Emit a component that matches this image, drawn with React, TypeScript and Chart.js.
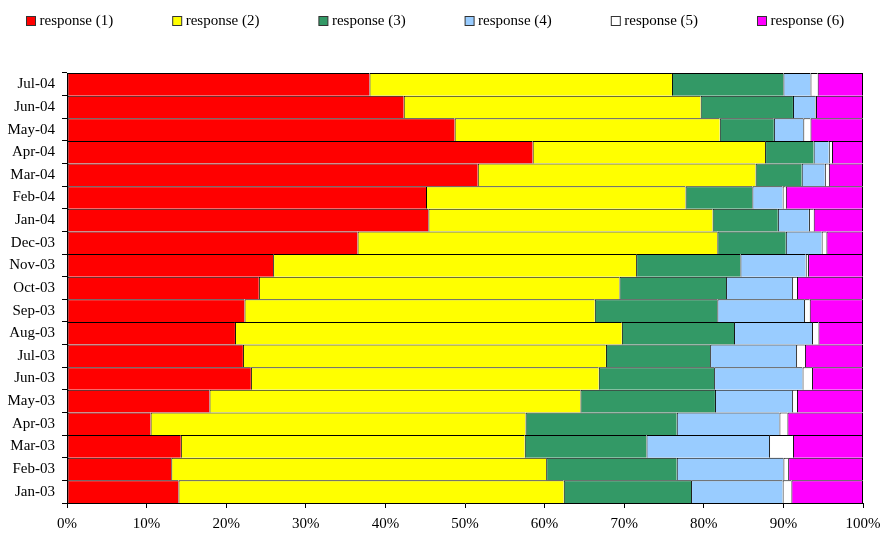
import React, { useEffect, useRef } from "react";
import { Chart, registerables } from "chart.js";

Chart.register(...registerables);

const categories = [
  "Jan-03", "Feb-03", "Mar-03", "Apr-03", "May-03", "Jun-03", "Jul-03", "Aug-03", "Sep-03",
  "Oct-03", "Nov-03", "Dec-03", "Jan-04", "Feb-04", "Mar-04", "Apr-04", "May-04", "Jun-04", "Jul-04",
];

const response1 = [14.0, 13.1, 14.3, 10.5, 17.9, 23.1, 22.1, 21.1, 22.3, 24.1, 25.9, 36.5, 45.4, 45.1, 51.6, 58.5, 48.7, 42.3, 38.0];
const response2 = [48.4, 47.1, 43.2, 47.1, 46.6, 43.7, 45.6, 48.6, 44.0, 45.3, 45.6, 45.2, 35.7, 32.6, 34.9, 29.2, 33.3, 37.3, 38.0];
const response3 = [16.0, 16.4, 15.3, 19.0, 16.9, 14.5, 13.1, 14.1, 15.4, 13.4, 13.1, 8.6, 8.2, 8.4, 5.8, 6.1, 6.8, 11.6, 14.0];
const response4 = [11.5, 13.4, 15.4, 12.9, 9.7, 11.1, 10.8, 9.8, 10.9, 8.3, 8.2, 4.5, 3.9, 3.8, 2.9, 1.9, 3.7, 2.8, 3.4];
const response5 = [1.1, 0.6, 3.0, 1.0, 0.6, 1.2, 1.1, 0.8, 0.7, 0.6, 0.3, 0.6, 0.6, 0.4, 0.5, 0.4, 0.9, 0.1, 0.9];
const response6 = [9.0, 9.4, 8.8, 9.5, 8.3, 6.4, 7.3, 5.6, 6.7, 8.3, 6.9, 4.6, 6.2, 9.7, 4.3, 3.9, 6.6, 5.9, 5.7];

const seriesNames = ["response (1)", "response (2)", "response (3)", "response (4)", "response (5)", "response (6)"];
const seriesValues = [response1, response2, response3, response4, response5, response6];
const seriesColors = ["#FF0000", "#FFFF00", "#339966", "#99CCFF", "#FFFFFF", "#FF00FF"];

const xTicks = [0, 10, 20, 30, 40, 50, 60, 70, 80, 90, 100];

const FONT = "'Liberation Serif', 'Times New Roman', serif";

const legendPlugin = {
  id: "customLegend",
  afterDraw(chart: any) {
    const ctx = chart.ctx;
    ctx.save();
    ctx.font = `15px ${FONT}`;
    ctx.textBaseline = "middle";
    ctx.textAlign = "left";
    chart.data.datasets.forEach((ds: any, i: number) => {
      const x = 26.5 + i * 146.2;
      const y = 16.5;
      ctx.fillStyle = ds.backgroundColor;
      ctx.fillRect(x, y, 9, 9);
      ctx.strokeStyle = "#333";
      ctx.lineWidth = 1;
      ctx.strokeRect(x, y, 9, 9);
      ctx.fillStyle = "#000";
      ctx.fillText(ds.label, x + 13, y + 4.5);
    });
    ctx.restore();
  },
};

export default function App() {
  const ref = useRef<HTMLCanvasElement | null>(null);

  useEffect(() => {
    if (!ref.current) return;
    Chart.defaults.color = "#000";
    Chart.defaults.font.family = FONT;
    Chart.defaults.font.size = 15;
    const last = seriesNames.length - 1;
    const chart = new Chart(ref.current, {
      type: "bar",
      data: {
        labels: categories,
        datasets: seriesNames.map((name, i) => ({
          label: name,
          data: seriesValues[i],
          backgroundColor: seriesColors[i],
          borderColor: "#000",
          borderWidth: { top: 1, left: 1, bottom: 0, right: i === last ? 1 : 0 },
          borderSkipped: false,
          barPercentage: 1,
          categoryPercentage: 1,
          inflateAmount: 0,
        })),
      },
      options: {
        indexAxis: "y",
        responsive: false,
        animation: false,
        layout: { padding: { top: 73, left: 0, right: 18, bottom: 0 } },
        plugins: {
          legend: { display: false },
          tooltip: { enabled: false },
        },
        scales: {
          x: {
            stacked: true,
            min: 0,
            max: 100,
            afterBuildTicks: (scale: any) => {
              scale.ticks = xTicks.map((v) => ({ value: v }));
            },
            afterFit: (scale: any) => {
              scale.height = 31;
              scale.paddingLeft = 0;
              scale.paddingRight = 0;
            },
            ticks: {
              callback: (v: any) => `${v}%`,
              padding: 7,
              maxRotation: 0,
              font: { size: 15, family: FONT },
            },
            grid: { drawOnChartArea: false, drawTicks: true, tickLength: 5, color: "#000" },
            border: { color: "#000", width: 1 },
          },
          y: {
            stacked: true,
            reverse: true,
            afterFit: (scale: any) => {
              scale.width = 67;
              scale.paddingTop = 0;
              scale.paddingBottom = 0;
            },
            ticks: {
              padding: 7,
              font: { size: 15, family: FONT },
              autoSkip: false,
            },
            grid: { drawOnChartArea: false, drawTicks: true, tickLength: 5, color: "#000", offset: true },
            border: { color: "#000", width: 1 },
          },
        },
      },
      plugins: [legendPlugin],
    });
    return () => chart.destroy();
  }, []);

  return (
    <div style={{ position: "absolute", left: 0, top: 0, width: 881, height: 534, background: "#fff" }}>
      <canvas ref={ref} width={881} height={534} style={{ width: 881, height: 534 }} />
    </div>
  );
}
